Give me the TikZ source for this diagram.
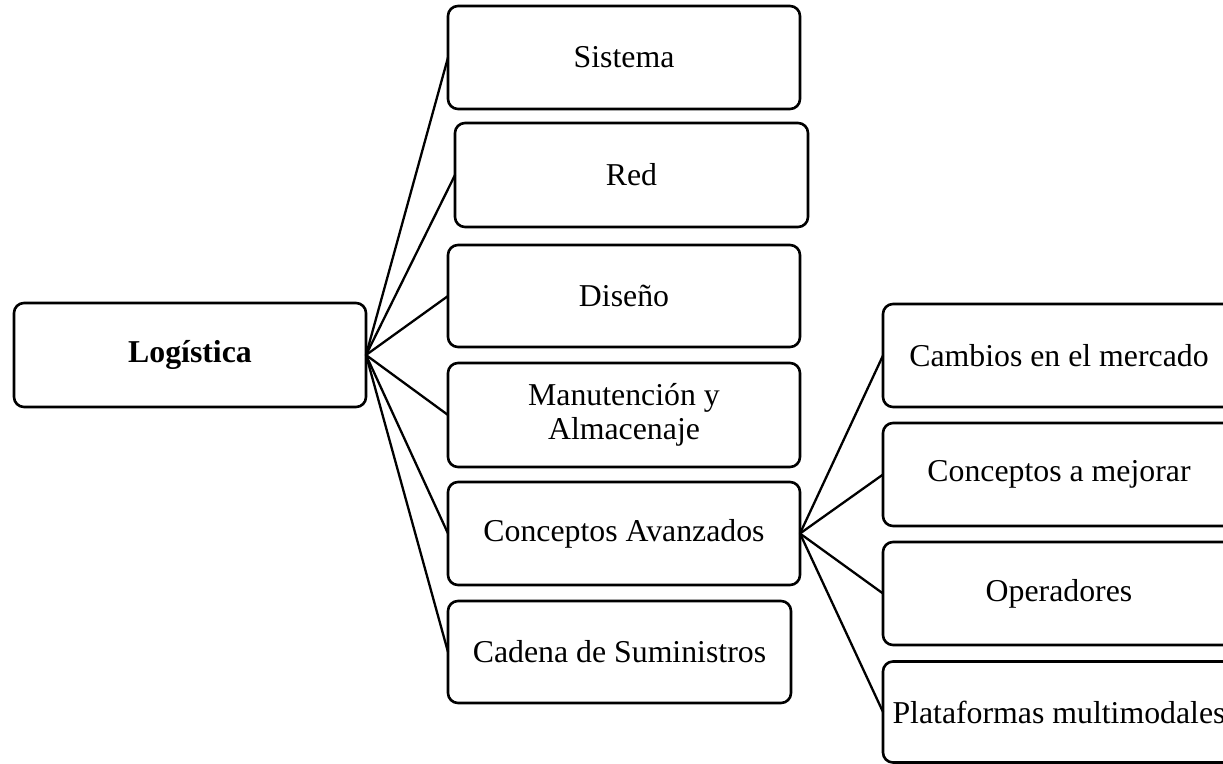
\documentclass[tikz,border=0pt]{standalone}
\usepackage{fontspec}
\setmainfont{Liberation Serif}
\begin{document}
\begin{tikzpicture}[x=1pt,y=-1pt,
  box/.style={draw, line width=2.6pt, rounded corners=10pt, inner sep=0pt, outer sep=0pt,
    minimum width=352pt, minimum height=103pt, align=center,
    font=\fontsize{31.8}{34}\selectfont},
  link/.style={line width=2.3pt}]
\useasboundingbox (0,0) rectangle (1223,763);
\clip (0,0) rectangle (1223,763);

% root
\node[box, font=\fontsize{31.8}{34}\selectfont\bfseries, minimum height=104pt] (log) at (190,355) {Logística};

% first level
\node[box] (sis) at (624,57.5) {Sistema};
\node[box, minimum width=353pt, minimum height=104pt] (red) at (631.5,175) {Red};
\node[box, minimum height=102pt] (dis) at (624,296) {Diseño};
\node[box, minimum height=104pt] (man) at (624,415) {Manutención y\\Almacenaje};
\node[box] (con) at (624,533.5) {Conceptos Avanzados};
\node[box, minimum width=343pt, minimum height=102pt] (cad) at (619.5,652) {Cadena de Suministros};

% second level
\node[box] (cam) at (1059,355.5) {Cambios en el mercado};
\node[box] (mej) at (1059,474.5) {Conceptos a mejorar};
\node[box] (ope) at (1059,593.5) {Operadores};
\node[box, minimum height=101pt] (pla) at (1059,712) {Plataformas multimodales};

% connectors
\foreach \t in {sis,red,dis,man,con,cad}
  \draw[link] (log.east) -- (\t.west);
\foreach \t in {cam,mej,ope,pla}
  \draw[link] (con.east) -- (\t.west);
\end{tikzpicture}
\end{document}
